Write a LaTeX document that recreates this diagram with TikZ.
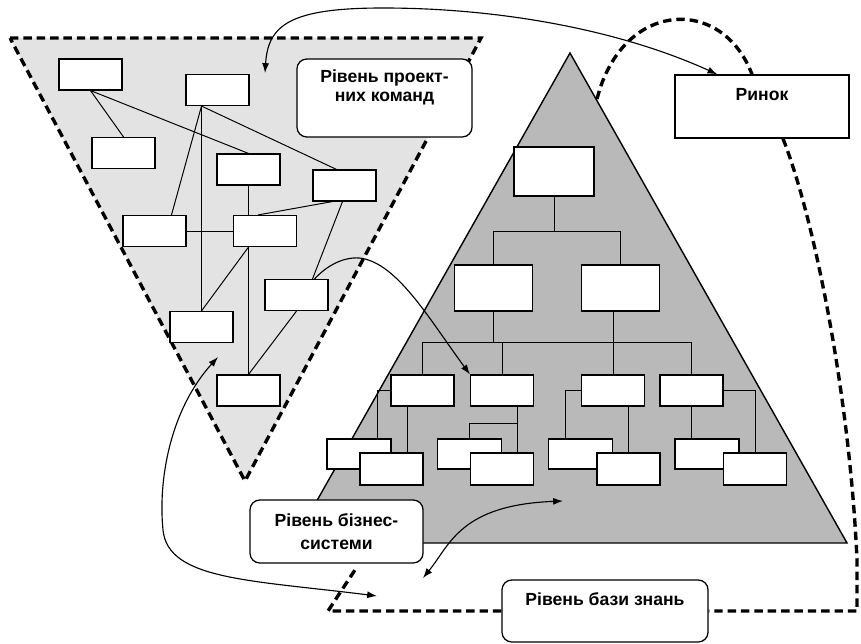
\documentclass[tikz,border=0pt]{standalone}
\usepackage{fontspec}
\setmainfont{Liberation Sans}
\usepackage{tikz}
\usetikzlibrary{arrows.meta,calc,positioning}

\tikzset{
  cell/.style={draw, fill=white, line width=0.8pt, inner sep=0pt,
    minimum width=1.575cm, minimum height=0.775cm},
  plate/.style={draw, fill=white, line width=0.9pt, inner sep=0pt, align=center,
    font=\bfseries\fontsize{12.5}{13.5}\selectfont},
  tag/.style={plate, rounded corners=7pt},
  link/.style={line width=0.7pt},
  loopline/.style={line width=2.4pt, dash pattern=on 6pt off 3.5pt},
  flow/.style={line width=0.8pt},
}

\begin{document}
\begin{tikzpicture}[x=0.025cm, y=-0.025cm, >={Latex[length=7pt,width=5pt]}]
\useasboundingbox (0,0) rectangle (861,644);

\draw[loopline, fill=gray!22] (10,38) -- (481,38) -- (245,481) -- cycle;
\draw[line width=1pt, fill=gray!55] (570,53) -- (847,543) -- (293,543) -- cycle;

\node[cell] (b1) at (90.5,74.5) {};
\node[cell] (b2) at (217.5,90) {};
\node[cell] (b3) at (123.5,153) {};
\node[cell] (b4) at (248.5,169.5) {};
\node[cell] (b5) at (344.5,185.5) {};
\node[cell] (b6) at (154.5,231) {};
\node[cell] (b7) at (265,231) {};
\node[cell] (b8) at (296.5,295) {};
\node[cell] (b9) at (201.5,327) {};
\node[cell] (b10) at (248.5,390.5) {};

\coordinate (hub) at (b9.north |- b2.south);
\draw[link] (b1.south) -- (b3.north);
\draw[link] (b1.south) -- (b4.north);
\draw[link] (hub) -- (b9.north);
\draw[link] (hub) -- ($(b6.north)+(17,0)$);
\draw[link] (hub) -- ($(b5.north)+(-8,0)$);
\draw[link] (b4.south) -- (b4.south |- b7.north);
\draw[link] (b6.east) -- (b7.west);
\draw[link] (b5.south) ++(-12,0) -- ($(b7.north)+(-7,0)$);
\draw[link] (b5.south) ++(-2,0) -- ($(b8.north)+(16,0)$);
\draw[link] (b10.north) -- (b10.north |- b7.south) -- (b9.north);
\draw[link] (b8.south) -- (b10.north);

\node[cell, minimum width=2cm, minimum height=1.225cm] (t) at (554,171.5) {};
\node[cell, minimum width=1.95cm, minimum height=1.15cm] (m1) at (493.5,288) {};
\node[cell, minimum width=1.95cm, minimum height=1.15cm] (m2) at (620.5,288) {};

\node[cell] (l3a) at (422.5,390.5) {};
\node[cell] (l3b) at (502,390.5) {};
\node[cell] (l3c) at (613,390.5) {};
\node[cell] (l3d) at (691.5,390.5) {};

\node[cell, minimum width=1.6cm, minimum height=0.75cm] (d1) at (359,454) {};
\node[cell, minimum width=1.6cm, minimum height=0.75cm] (d2) at (469.5,454) {};
\node[cell, minimum width=1.6cm, minimum height=0.75cm] (d3) at (580.5,454) {};
\node[cell, minimum width=1.6cm, minimum height=0.75cm] (d4) at (707,454) {};
\node[cell, minimum height=0.8cm] (e1) at (391.5,469) {};
\node[cell, minimum height=0.8cm] (e2) at (502,469) {};
\node[cell, minimum height=0.8cm] (e3) at (628.5,469) {};
\node[cell, minimum height=0.8cm] (e4) at (755,469) {};

\draw[link] (t.south) -- ++(0,35) coordinate (j1);
\draw[link] (m1.north) |- (j1) -| (m2.north);
\coordinate (bus) at (0,342);
\draw[link] (l3a.north) -- (l3a.north |- bus) -- (l3d.north |- bus) -- (l3d.north);
\draw[link] (l3b.north) -- (l3b.north |- bus);
\draw[link] (m1.south) -- (m1.south |- bus);
\draw[link] (l3c.north) -- (l3c.north |- m2.south);

\draw[link] (l3a.west) -| ($(d1.north)+(18,0)$);
\draw[link] (e1.north) ++(15.5,0) coordinate (q1) -- (q1 |- l3a.south);
\draw[link] (e2.north) ++(15,0) coordinate (q2) -- (q2 |- l3b.south);
\draw[link] (l3b.south -| q2) ++(0,17) -| (d2.north);
\draw[link] (l3c.west) -| ($(d3.north)+(-15,0)$);
\draw[link] (e3.north) -- (e3.north |- l3c.south);
\draw[link] (l3d.south) -- (l3d.south |- d4.north);
\draw[link] (l3d.east) -| (e4.north);

\node[tag, minimum width=4.375cm, minimum height=1.95cm] (lp) at (384.5,98)
  {Рівень проект-\\них команд\\\strut};
\node[plate, minimum width=4.35cm, minimum height=1.575cm] (rk) at (762,106.5)
  {Ринок\\\strut};
\node[tag, minimum width=4.325cm, minimum height=1.575cm,
  font=\bfseries\fontsize{12.5}{16.3}\selectfont] (bs) at (336.5,531.5)
  {Рівень бізнес-\\системи};
\node[tag, minimum width=5.15cm, minimum height=1.55cm] (bz) at (605,611)
  {Рівень бази знань\\\strut};

\draw[loopline] (597,99) .. controls (622,0) and (722,-5) .. ($(rk.north)+(-10,0)$);
\draw[loopline] ($(rk.south)+(21,0)$) .. controls (815,220) and (850,400) .. (857,560)
  -- (857,611) -- (bz.east);
\coordinate (bend) at (328,611);
\draw[loopline] (bz.west) -- (bend) -- ($(bs.south)+(20,4)$);

\draw[flow, <->] (265,73) .. controls (268,25) and (290,8) .. (383,8)
  .. controls (500,8) and (620,30) .. ($(rk.north west)+(43,0)$);
\draw[flow, ->] ($(b8.north east)+(-14,0)$) .. controls (330,262) and (350,255) .. (365,259)
  .. controls (400,268) and (430,320) .. (l3b.north west);
\draw[flow, <->] (218,357) .. controls (170,410) and (158,480) .. (163,530)
  .. controls (168,580) and (250,580) .. (377,596);
\draw[flow, <->] (423,578) .. controls (450,545) and (460,505) .. (563,501);

\end{tikzpicture}
\end{document}
